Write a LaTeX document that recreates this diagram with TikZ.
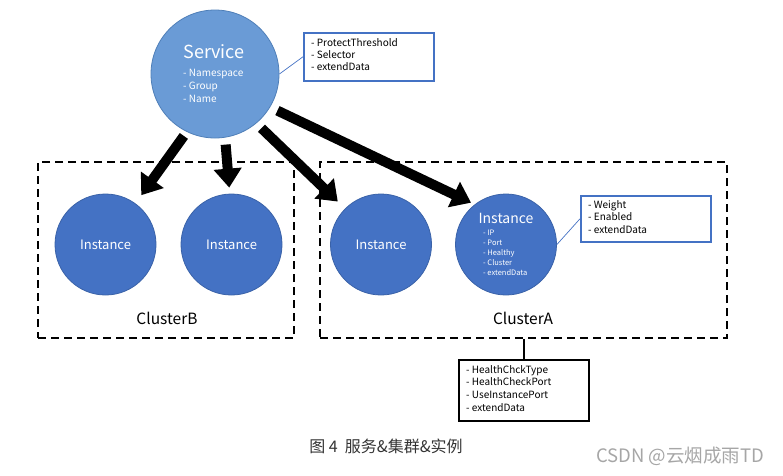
\documentclass[tikz,border=0pt]{standalone}
\usepackage{fontspec}
\setmainfont{Noto Sans CJK SC}
\usetikzlibrary{arrows.meta,calc}
\definecolor{svcblue}{HTML}{6A9BD6}
\definecolor{svcedge}{HTML}{4F7FB8}
\definecolor{instblue}{HTML}{4472C4}
\definecolor{instedge}{HTML}{3A62A8}
\definecolor{boxblue}{HTML}{4472C4}
\definecolor{captgray}{HTML}{333333}
\definecolor{wmgray}{HTML}{A6A6A6}
\tikzset{
  svcnode/.style={circle,fill=svcblue,draw=svcedge,line width=0.8pt,minimum size=128pt,inner sep=0pt},
  instnode/.style={circle,fill=instblue,draw=instedge,line width=0.8pt,minimum size=101pt,inner sep=0pt},
  attrbox/.style={draw=boxblue,line width=1.5pt,fill=white,inner sep=0pt,anchor=north west},
  clusterbox/.style={draw=black,line width=1.8pt,dash pattern=on 8pt off 5pt,inner sep=0pt},
  bigarrow/.style={line width=10pt,-{Triangle[length=19pt,width=27pt]}},
  wtext/.style={text=white,inner sep=0pt},
  ktext/.style={text=black,inner sep=0pt},
  thinlink/.style={draw=boxblue,line width=0.7pt}
}
\begin{document}
\begin{tikzpicture}[x=1pt,y=-1pt]
\useasboundingbox (0,0) rectangle (783,475);
% cluster boxes
\node[clusterbox,minimum width=256pt,minimum height=176pt] (cb) at (166,250) {};
\node[clusterbox,minimum width=407pt,minimum height=176pt] (ca) at (523.5,250) {};
% service
\node[svcnode] (svc) at (215,74) {};
\node[wtext,font=\fontsize{18}{20}\selectfont] (svct) at (214,52) {Service};
\node[wtext,font=\fontsize{10}{13}\selectfont,align=left,anchor=north west] (svcl) at (183,69) {- Namespace\\- Group\\- Name};
% service attr box
\node[attrbox,minimum width=130pt,minimum height=48pt] (pt) at (303,32) {};
\node[ktext,font=\fontsize{10}{12.3}\selectfont,align=left,anchor=north west] (ptt) at (311,38) {- ProtectThreshold\\- Selector\\- extendData};
\draw[thinlink] (pt.west) -- (svc.0);
% instances
\node[instnode] (i1) at (105.5,244.5) {};
\node[wtext,font=\fontsize{13}{15}\selectfont] at (i1) {Instance};
\node[instnode] (i2) at (231.5,244.5) {};
\node[wtext,font=\fontsize{13}{15}\selectfont] at (i2) {Instance};
\node[instnode] (i3) at (381,244.5) {};
\node[wtext,font=\fontsize{13}{15}\selectfont] at (i3) {Instance};
\node[instnode] (i4) at (506,244.5) {};
\node[wtext,font=\fontsize{14}{16}\selectfont] (i4t) at (506,218) {Instance};
\node[wtext,font=\fontsize{7.5}{10}\selectfont,align=left,anchor=north west] (i4l) at (483,230) {- IP\\- Port\\- Healthy\\- Cluster\\- extendData};
% cluster labels
\node[ktext,font=\fontsize{15.5}{18}\selectfont] (cbl) at (167,318) {ClusterB};
\node[ktext,font=\fontsize{15.5}{18}\selectfont] (cal) at (523,318) {ClusterA};
% instance attr box
\node[attrbox,minimum width=130pt,minimum height=46pt] (wt) at (580,195) {};
\node[ktext,font=\fontsize{10}{12.5}\selectfont,align=left,anchor=north west] (wtt) at (588,200) {- Weight\\- Enabled\\- extendData};
\draw[thinlink] (wt.west) -- (i4.east);
% cluster attr box
\node[draw=black,line width=1.5pt,fill=white,inner sep=0pt,anchor=north west,minimum width=130pt,minimum height=61pt] (hc) at (458,359) {};
\node[ktext,font=\fontsize{10}{12.7}\selectfont,align=left,anchor=north west] (hct) at (466,365) {- HealthChckType\\- HealthCheckPort\\- UseInstancePort\\- extendData};
\draw[black,line width=1.5pt] (hc.north) -- (hc.north |- ca.south);
% big arrows
\draw[bigarrow,shorten <=5pt,shorten >=10pt] (svc.-116) -- (i1.54);
\draw[bigarrow,shorten <=7pt,shorten >=6pt] (svc.-81) -- (i2.92);
\draw[bigarrow,shorten <=7pt,shorten >=10pt] (svc.-50) -- (i3.135);
\draw[bigarrow,shorten <=8pt,shorten >=4pt] (svc.-31) -- (i4.128);
% caption
\node[text=captgray,font=\fontsize{16}{18}\selectfont,inner sep=0pt] (cap) at (386,446) {图 4\ \ 服务\&集群\&实例};
\node[text=wmgray,font=\fontsize{18.5}{20}\selectfont,inner sep=0pt] (wm) at (680,456) {CSDN @云烟成雨TD};
\end{tikzpicture}
\end{document}
